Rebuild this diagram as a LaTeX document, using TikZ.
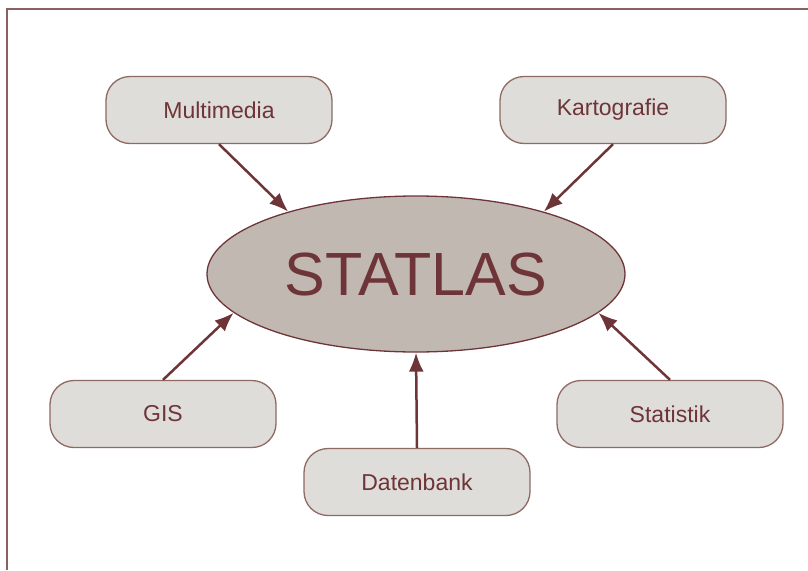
\documentclass[tikz,border=0pt]{standalone}
\usepackage{fontspec}
\setmainfont{Liberation Sans}
\usepackage{tikz}
\usetikzlibrary{shapes.geometric,arrows.meta}
\definecolor{ink}{HTML}{6E3538}
\definecolor{rim}{HTML}{8E6A62}
\definecolor{boxfill}{HTML}{DFDDD9}
\definecolor{hubfill}{HTML}{C2B8B2}
\definecolor{frame}{HTML}{8B6060}

\begin{document}
\begin{tikzpicture}[x=1pt, y=-1pt,
  main/.style = {draw=rim, fill=boxfill, rounded corners=24pt, minimum width=226pt, minimum height=67pt, line width=1.3pt, text=ink, font=\fontsize{23}{26}\selectfont},
  hub/.style = {ellipse, draw=ink, fill=hubfill, minimum width=418pt, minimum height=156pt, inner sep=0pt, line width=1.3pt, text=ink, font=\fontsize{61}{66}\selectfont},
  >={Latex[length=19pt,width=15pt]}, arr/.style = {->, draw=ink, line width=2.5pt}]
\useasboundingbox (0,0) rectangle (808,570);
\draw[frame, line width=2pt] (7,570) -- (7,9) -- (808,9);
%\node[style] (name) at (x,y) {label};
\node[hub] (statlas) at (416,274) {STATLAS};
\node[main] (multimedia) at (219,110) {Multimedia};
\node[main] (karto) at (613,110) {Kartografie};
\node[main] (gis) at (163,414) {GIS};
\node[main] (statistik) at (670,414) {Statistik};
\node[main] (datenbank) at (417,482) {Datenbank};
\draw[arr] (multimedia.south) -- (statlas.154);
\draw[arr] (karto.south) -- (statlas.26);
\draw[arr] (gis.north) -- (statlas.192);
\draw[arr] (statistik.north) -- (statlas.348);
\draw[arr] (datenbank.north) -- (statlas.south);
\end{tikzpicture}
\end{document}
